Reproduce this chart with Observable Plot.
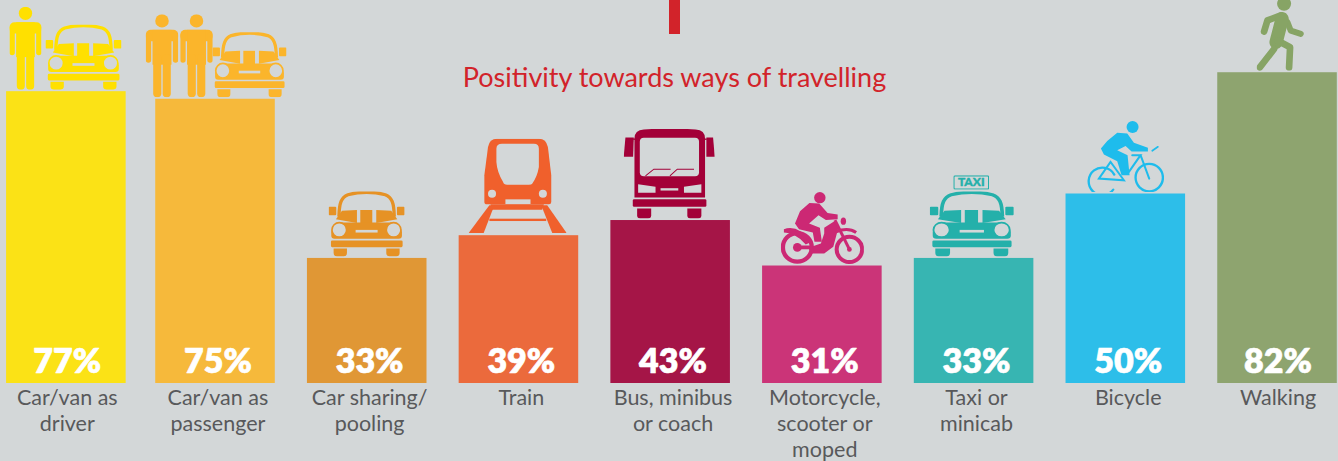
<!DOCTYPE html>
<html>
<head>
<meta charset="utf-8">
<style>
html,body{margin:0;padding:0;background:#d3d7d8;overflow:hidden}
#wrap{position:relative;width:1338px;height:461px}
#tick{position:absolute;left:669px;top:0;width:11px;height:34px;background:#d2232a}
</style>
<script src="https://cdn.jsdelivr.net/npm/d3@7"></script>
<script src="https://cdn.jsdelivr.net/npm/@observablehq/plot@0.6"></script>
</head>
<body>
<div id="wrap"><div id="tick"></div></div>
<script>
const categories = ["Car/van as\ndriver","Car/van as\npassenger","Car sharing/\npooling","Train","Bus, minibus\nor coach","Motorcycle,\nscooter or\nmoped","Taxi or\nminicab","Bicycle","Walking"];
const values = [77,75,33,39,43,31,33,50,82];
const barColors = ["#fbe216","#f6b93b","#e09735","#eb6a3c","#a51547","#cb3478","#37b5b2","#2dbee9","#8ea46f"];
const iconColors = ["#ffe000","#fbb52b","#e69225","#f0602c","#a30038","#cc2874","#24b0aa","#1ebcec","#87a465"];
const title = "Positivity towards ways of travelling";

const bg = "#d3d7d8";
const rows = categories.map((category,i)=>({category,value:values[i],bar:barColors[i],icon:iconColors[i]}));

const uri = (vw,vh,body)=>"data:image/svg+xml,"+encodeURIComponent(
  `<svg xmlns="http://www.w3.org/2000/svg" viewBox="0 0 ${vw} ${vh}" preserveAspectRatio="none">${body}</svg>`);

const person = c=>uri(96,250,`<g fill="${c}">
<circle cx="48" cy="20" r="20"/>
<rect x="0" y="47" width="96" height="34" rx="15"/>
<rect x="0" y="55" width="16" height="91" rx="8"/>
<rect x="80" y="55" width="16" height="91" rx="8"/>
<rect x="20" y="47" width="56" height="105"/>
<rect x="22" y="120" width="24" height="130" rx="11"/>
<rect x="50" y="120" width="24" height="130" rx="11"/></g>`);

const car = c=>uri(228,196,`<g fill="${c}">
<path d="M31 76C32 34 38 18 58 10Q114-5 170 10C190 18 196 34 197 76" fill="none" stroke="${c}" stroke-width="10"/>
<rect x="0" y="46" width="23" height="26" rx="3"/><rect x="205" y="46" width="23" height="26" rx="3"/>
<path d="M40 58L85 56V95L22 84Z"/><rect x="95" y="56" width="36" height="40"/><path d="M143 56L188 58L206 84L143 95Z"/>
<path d="M8 122Q14 92 42 94H186Q214 92 220 122V134Q220 143 210 143H18Q8 143 8 134Z"/>
<circle cx="32" cy="116" r="22" fill="${bg}" stroke="${c}" stroke-width="5"/>
<circle cx="195" cy="116" r="22" fill="${bg}" stroke="${c}" stroke-width="5"/>
<rect x="81" y="116" width="66" height="8" fill="${bg}"/>
<rect x="7" y="148" width="215" height="20" rx="4"/>
<path d="M15 172H55V186Q55 196 45 196H25Q15 196 15 186Z"/>
<path d="M173 172H213V186Q213 196 203 196H183Q173 196 173 186Z"/></g>`);

const taxiSign = c=>uri(107,42,`<rect x="2" y="2" width="103" height="38" rx="3" fill="none" stroke="${c}" stroke-width="3.5"/>`);

const train = c=>uri(293,285,`<g fill="${c}">
<path d="M85 0H210Q232 0 237 25L247 110V190Q247 197 240 197H55Q47 197 47 190V110L58 25Q62 0 85 0Z"/>
<path d="M100 15H195Q210 15 210 30V85Q205 115 190 135Q188 138 180 138H115Q105 138 103 130Q85 100 83 70V30Q83 15 100 15Z" fill="${bg}"/>
<circle cx="70" cy="165" r="12" fill="${bg}"/><circle cx="222" cy="165" r="12" fill="${bg}"/>
<rect x="110" y="182" width="75" height="15" fill="${bg}"/>
<path d="M65 197H225L220 213H70Z"/>
<path d="M62 200H77L45 283H0Z"/><path d="M217 200H235L293 283H250Z"/>
<rect x="62" y="240" width="170" height="7"/></g>`);

const bus = c=>uri(272,270,`<g fill="${c}">
<path d="M32 207V30Q32 5 60 3Q137-3 215 3Q243 5 243 30V207Z"/>
<rect x="48" y="28" width="177" height="115" rx="12" fill="${bg}"/>
<path d="M65 142L90 122H140M138 142L160 122H210" fill="none" stroke="${c}" stroke-width="3"/>
<path d="M5 27H30L28 85H0Z"/><path d="M247 27H267L272 85H247Z"/>
<rect x="28" y="30" width="6" height="4"/><rect x="242" y="30" width="6" height="4"/>
<path d="M43 167L95 175V193H43Z" fill="${bg}"/><path d="M232 167L180 175V193H232Z" fill="${bg}"/>
<rect x="110" y="179" width="53" height="7" fill="${bg}"/>
<rect x="27" y="212" width="220" height="23" rx="4"/>
<path d="M40 240H82V260Q82 270 72 270H50Q40 270 40 260Z"/>
<path d="M190 240H232V260Q232 270 222 270H200Q190 270 190 260Z"/></g>`);

const moto = c=>uri(247,217,`<g fill="${c}">
<circle cx="116" cy="17" r="17"/>
<path d="M85 33L114 35L139 63L169 68V82L134 84L112 70L84 95L116 108L122 150H100L95 122L54 112L42 95L57 58Z"/>
<path d="M129 108L159 88L172 105L156 165L129 185H90L82 168L119 155L129 125Z"/>
<path d="M9 112Q49 96 92 150L74 158Q44 122 9 122Z"/>
<circle cx="49" cy="167" r="43" fill="none" stroke="${c}" stroke-width="13"/><circle cx="49" cy="167" r="13"/>
<path d="M49 167H95" stroke="${c}" stroke-width="11"/>
<circle cx="204" cy="173" r="38" fill="none" stroke="${c}" stroke-width="12"/><circle cx="204" cy="173" r="7"/>
<path d="M161 85L204 173" stroke="${c}" stroke-width="9"/>
<path d="M164 120Q200 105 224 122" fill="none" stroke="${c}" stroke-width="9"/>
<ellipse cx="186" cy="88" rx="8" ry="11"/></g>`);

const bike = c=>uri(237,212,`<g fill="${c}">
<circle cx="143" cy="18" r="18"/>
<path d="M97 35L127 37L147 65L189 80V91H140L122 75L97 87L128 102L134 162H110L97 120L57 100L48 82L67 60Z"/>
<g fill="none" stroke="${c}" stroke-linecap="round">
<path d="M85 205A41 41 0 1 1 88 160" stroke-width="7"/>
<circle cx="193" cy="169" r="41" stroke-width="7"/>
<path d="M77 122L42 172L117 177Z" stroke-width="6"/>
<path d="M132 152L167 102H142M167 102L193 172" stroke-width="6"/>
<path d="M202 89L219 77" stroke-width="5"/></g></g>`);

const walker = c=>uri(142,221,`<g fill="none" stroke="${c}" stroke-linecap="round" stroke-linejoin="round">
<circle cx="82" cy="21" r="21" fill="${c}" stroke="none"/>
<path d="M72 56L32 71L22 104" stroke-width="20"/>
<path d="M92 76L102 101L132 111" stroke-width="18"/>
<path d="M76 66L58 136" stroke-width="40"/>
<path d="M52 156L9 211" stroke-width="20"/>
<path d="M62 131L100 151L97 211" stroke-width="20"/></g>`);

// each picture: bar index, artwork, drawn size, offset from the bar's top centre
const pictures = [
  [0,person,32,83,-38.3],[0,car,76,65,19.7],
  [1,person,32.5,83,-53.5],[1,person,32.5,83,-19],[1,car,74,65,34],
  [2,car,76,65,-0.6],[3,train,98,95,-1.3],[4,bus,91,90,-1.4],
  [5,moto,83,72,0],[6,car,84,65,-2.3],[7,bike,79,71,-1.4],[8,walker,47.3,74,2.9]
];
const iconMarks = pictures.map(([i,art,width,height,dx])=>Plot.image([rows[i]],{
  x:"category",y:"value",src:art(rows[i].icon),width,height,dx,dy:-(height/2+2),preserveAspectRatio:"none"}));

const sans = "Lato, 'Open Sans', sans-serif";
const labelMark = (data,dx)=>[
  Plot.text(data,{x:"category",y:()=>0,text:d=>d.value+"%",dx,dy:-21,fill:"white",stroke:"white",strokeWidth:0.6,fontFamily:sans,fontWeight:800,fontSize:34,lineAnchor:"middle"}),
  Plot.text(data,{x:"category",y:()=>0,text:"category",dx,dy:3,fill:"#58595b",fontFamily:sans,fontSize:21.5,lineHeight:1.21,lineAnchor:"top"})
];

const chart = Plot.plot({
  width:1338,height:461,margin:0,
  style:{background:bg},
  x:{domain:categories,range:[3.5,1336.8],paddingInner:0.212,paddingOuter:0,round:false,axis:null},
  y:{domain:[0,100],range:[383,4],axis:null},
  marks:[
    Plot.barY(rows.slice(0,1),{x:"category",y:"value",fill:"bar",dx:2.6}),
    Plot.barY(rows.slice(1),{x:"category",y:"value",fill:"bar"}),
    ...iconMarks,
    Plot.image([rows[6]],{x:"category",y:"value",src:taxiSign(rows[6].icon),width:36,height:14.5,dx:-2.8,dy:-76,preserveAspectRatio:"none"}),
    Plot.text([rows[6]],{x:"category",y:"value",text:()=>"TAXI",dx:-2.8,dy:-76,fill:rows[6].icon,stroke:rows[6].icon,strokeWidth:0.4,fontFamily:sans,fontWeight:900,fontSize:12,lineAnchor:"middle",letterSpacing:"0.5px"}),
    ...labelMark(rows.slice(0,1),3.5),
    ...labelMark(rows.slice(1,8),2.4),
    ...labelMark(rows.slice(8),0.5),
    Plot.text([title],{frameAnchor:"top",dx:5,dy:67,fill:"#d2232a",fontFamily:sans,fontSize:27,lineAnchor:"top"})
  ]
});
chart.style.display="block";
document.getElementById("wrap").prepend(chart);
</script>
</body>
</html>
